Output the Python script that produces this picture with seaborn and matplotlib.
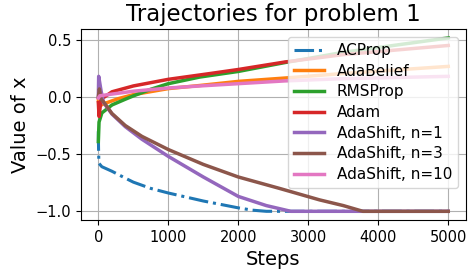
import pandas as pd
import matplotlib
matplotlib.use("Agg")
import matplotlib.pyplot as plt
import seaborn as sns

# values
acprop_steps = [0, 3, 8, 50, 195, 385, 500, 750, 1000, 1250, 1500, 1750, 2000, 2200, 2400, 5000]
acprop_x = [-0.30, -0.45, -0.58, -0.61, -0.65, -0.71, -0.745, -0.80, -0.84, -0.875,
            -0.91, -0.94, -0.97, -0.99, -1.0, -1.0]

adabelief_steps = [0, 10, 100, 285, 500, 1000, 1450, 2000, 2660, 3500, 5000]
adabelief_x = [-0.02, -0.08, -0.055, -0.015, 0.02, 0.073, 0.10, 0.136, 0.165, 0.205, 0.267]

rmsprop_steps = [0, 10, 50, 195, 385, 500, 750, 1000, 1450, 2000, 2660, 3500, 5000]
rmsprop_x = [-0.39, -0.22, -0.14, -0.07, -0.02, 0.009, 0.067, 0.116, 0.174, 0.223, 0.30, 0.39, 0.516]

adam_steps = [0, 10, 40, 195, 500, 1000, 1600, 2000, 2660, 3500, 5000]
adam_x = [-0.05, -0.17, -0.02, 0.045, 0.096, 0.154, 0.205, 0.24, 0.305, 0.37, 0.45]

shift1_steps = [0, 5, 40, 75, 195, 385, 623, 1000, 1500, 2000, 2400, 2750, 5000]
shift1_x = [0.0, 0.18, 0.05, -0.05, -0.15, -0.26, -0.37, -0.52, -0.70, -0.87, -0.95, -1.0, -1.0]

shift3_steps = [0, 15, 40, 75, 195, 385, 623, 1000, 1500, 2000, 2590, 3160, 3500, 3780, 5000]
shift3_x = [0.0, 0.07, -0.02, -0.043, -0.145, -0.25, -0.345, -0.46, -0.59, -0.70, -0.80,
            -0.90, -0.95, -1.0, -1.0]

shift10_steps = [0, 20, 195, 500, 1000, 1450, 2000, 2660, 3500, 5000]
shift10_x = [-0.01, 0.01, 0.025, 0.05, 0.078, 0.096, 0.116, 0.14, 0.16, 0.18]

series = [
    ("ACProp", acprop_steps, acprop_x),
    ("AdaBelief", adabelief_steps, adabelief_x),
    ("RMSProp", rmsprop_steps, rmsprop_x),
    ("Adam", adam_steps, adam_x),
    ("AdaShift, n=1", shift1_steps, shift1_x),
    ("AdaShift, n=3", shift3_steps, shift3_x),
    ("AdaShift, n=10", shift10_steps, shift10_x),
]


def main():
    plt.rcParams['font.family'] = ['DejaVu Sans']
    fig, ax = plt.subplots(figsize=(4.7, 2.76), dpi=100)
    fig.subplots_adjust(left=0.172, right=0.991, top=0.894, bottom=0.203)

    colors = sns.color_palette("tab10")
    for i, (name, steps, vals) in enumerate(series):
        df = pd.DataFrame({"Steps": steps, "x": vals})
        if name == "ACProp":
            style, lw = "-.", 2.2
        else:
            style, lw = "-", 2.5
        sns.lineplot(data=df, x="Steps", y="x", ax=ax, label=name,
                     color=colors[i], linewidth=lw, linestyle=style)

    ax.grid(True, color="#b0b0b0", linewidth=0.8)
    ax.set_title("Trajectories for problem 1", fontsize=16.5)
    ax.set_xlabel("Steps", fontsize=14)
    ax.set_ylabel("Value of x", fontsize=14)
    ax.set_xticks([0, 1000, 2000, 3000, 4000, 5000])
    ax.set_yticks([-1.0, -0.5, 0.0, 0.5])
    ax.tick_params(labelsize=10.5)
    ax.legend(loc="upper right", fontsize=11, labelspacing=0.37)

    fig.savefig("out.png", dpi=100)


if __name__ == "__main__":
    main()
